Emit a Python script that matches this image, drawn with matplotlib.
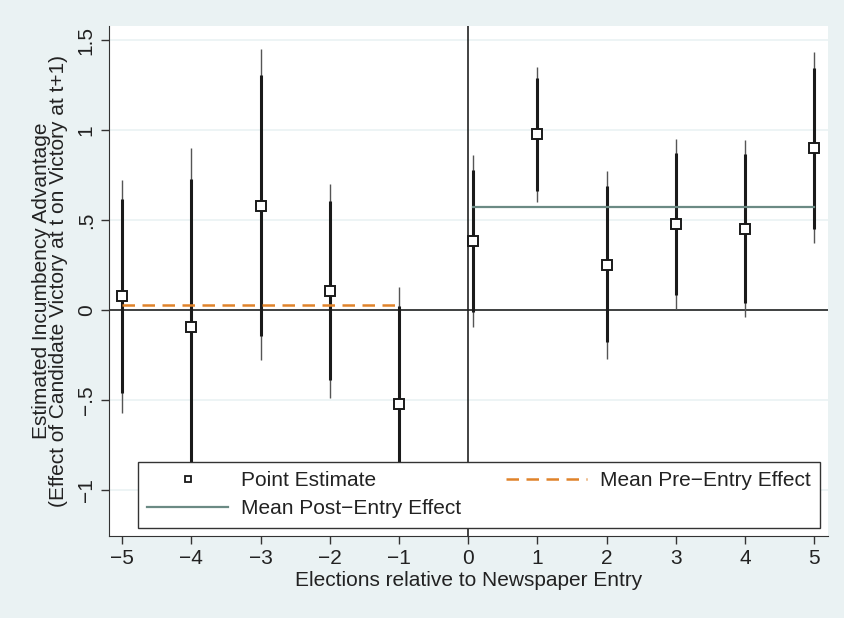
import numpy as np
import matplotlib.pyplot as plt
from matplotlib.lines import Line2D

plt.rcParams['font.family'] = ['Liberation Sans', 'DejaVu Sans']

# elections relative to newspaper entry (0 is drawn slightly to the right)
x = [-5, -4, -3, -2, -1, 0.07, 1, 2, 3, 4, 5]
est = [0.078, -0.095, 0.58, 0.105, -0.525, 0.383, 0.977, 0.25, 0.478, 0.45, 0.90]
# thick bars (inner interval)
lo_in = [-0.46, -0.93, -0.145, -0.39, -1.07, -0.01, 0.66, -0.18, 0.083, 0.04, 0.45]
hi_in = [0.615, 0.73, 1.305, 0.605, 0.02, 0.78, 1.29, 0.69, 0.87, 0.865, 1.345]
# thin bars (outer interval)
lo_out = [-0.57, -1.10, -0.28, -0.49, -1.18, -0.095, 0.60, -0.27, 0.005, -0.04, 0.37]
hi_out = [0.72, 0.90, 1.45, 0.70, 0.13, 0.86, 1.35, 0.77, 0.95, 0.945, 1.435]

pre_mean = 0.028
post_mean = 0.572

xticks = [-5, -4, -3, -2, -1, 0, 1, 2, 3, 4, 5]
yticks = [-1, -0.5, 0, 0.5, 1, 1.5]
ylabels = ['\u22121', '\u2212.5', '0', '.5', '1', '1.5']

bg = '#eaf2f3'
fs = 15
fig = plt.figure(figsize=(8.44, 6.18), dpi=100, facecolor=bg)
ax = fig.add_axes([109/844, 1 - 536/618, (828-109)/844, (536-26)/618])
ax.set_facecolor('white')

for yt in yticks:
    ax.axhline(yt, color=bg, lw=1.2, zorder=0)

ax.axhline(0, color='#222222', lw=1.2, zorder=1)
ax.axvline(0, color='#222222', lw=1.2, zorder=1)

ax.vlines(x, lo_out, hi_out, color='#555555', lw=1.0, zorder=2)
ax.vlines(x, lo_in, hi_in, color='#1a1a1a', lw=2.2, zorder=3)

ax.plot([-5, -1], [pre_mean, pre_mean], color='#e0832a', lw=1.8,
        dashes=(5, 3), zorder=4)
ax.plot([x[5], 5], [post_mean, post_mean], color='#6b8a84', lw=1.6, zorder=4)
ax.plot(x, est, ls='none', marker='s', ms=6.5, mfc='white', mec='#1a1a1a',
        mew=1.4, zorder=5)

ax.set_xlim(-5.19, 5.2)
ax.set_ylim(-1.256, 1.578)
ax.set_xticks(xticks)
ax.set_xticklabels([str(t).replace('-', '\u2212') for t in xticks])
ax.set_yticks(yticks)
ax.set_yticklabels(ylabels, rotation=90, va='center')
ax.tick_params(labelsize=fs, length=6, width=1, color='#333333', direction='out',
               labelcolor='#222222')
for side in ['top', 'right']:
    ax.spines[side].set_visible(False)
for side in ['left', 'bottom']:
    ax.spines[side].set_color('#333333')

ax.set_xlabel('Elections relative to Newspaper Entry', fontsize=fs, labelpad=2,
              color='#222222')
ax.set_ylabel('Estimated Incumbency Advantage\n(Effect of Candidate Victory at t on Victory at t+1)',
              fontsize=fs, labelpad=6, linespacing=0.9, color='#222222')

# legend handles
h_pt = Line2D([], [], ls='none', marker='s', ms=5, mfc='white', mec='#1a1a1a', mew=1.3)
h_post = Line2D([], [], color='#6b8a84', lw=1.6)
h_pre = Line2D([], [], color='#e0832a', lw=1.8, dashes=(5, 3))
leg = ax.legend([h_pt, h_post, h_pre],
                ['Point Estimate', 'Mean Post\u2212Entry Effect', 'Mean Pre\u2212Entry Effect'],
                ncol=2, loc='lower left', bbox_to_anchor=(0.04, 0.016, 0.949, 0.133),
                mode='expand', fontsize=fs, frameon=True, fancybox=False,
                edgecolor='#333333', framealpha=1, borderaxespad=0,
                handlelength=3.9, handletextpad=0.6, columnspacing=1.0,
                labelspacing=0.45, borderpad=0.45)
leg.get_frame().set_linewidth(1.0)
for t in leg.get_texts():
    t.set_color('#222222')
leg.set_zorder(10)

fig.savefig('out.png', dpi=100, facecolor=bg)
